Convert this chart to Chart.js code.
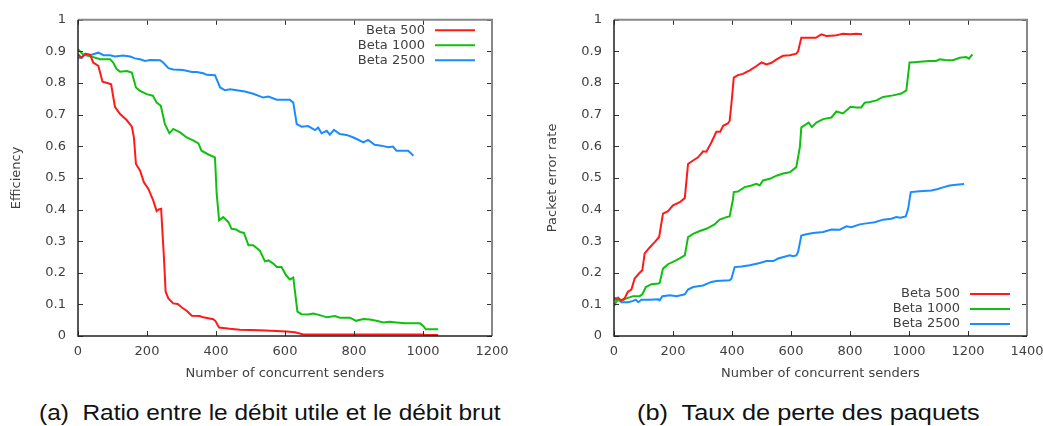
<!DOCTYPE html>
<html>
<head>
<meta charset="utf-8">
<script src="https://cdn.jsdelivr.net/npm/chart.js@4/dist/chart.umd.min.js"></script>
<style>
  html, body { margin: 0; padding: 0; background: #fff; overflow: hidden; }
  body { width: 1043px; height: 426px; position: relative; }
  canvas { position: absolute; top: 0; }
  #effChart { left: 0; }
  #perChart { left: 530px; }
  .caption {
    position: absolute; top: 402px; white-space: pre;
    font-family: "Liberation Sans", Arial, sans-serif; font-size: 22px; line-height: 22px;
    color: #111; transform-origin: left top;
  }
</style>
</head>
<body>
<canvas id="effChart" width="521" height="390"></canvas>
<canvas id="perChart" width="530" height="390"></canvas>
<div class="caption" style="left:39px; transform: scaleX(1.11)">(a)  Ratio entre le débit utile et le débit brut</div>
<div class="caption" style="left:637px; transform: scaleX(1.15)">(b)  Taux de perte des paquets</div>
<script>
// Series labels and colours
const seriesLabels = ['Beta 500', 'Beta 1000', 'Beta 2500'];
const seriesColors = ['#ff1a1a', '#10c010', '#1a8cff'];

// Tick labels
const yTickLabels = ['0', '0.1', '0.2', '0.3', '0.4', '0.5', '0.6', '0.7', '0.8', '0.9', '1'];
const effXTicks = ['0', '200', '400', '600', '800', '1000', '1200'];
const perXTicks = ['0', '200', '400', '600', '800', '1000', '1200', '1400'];

// (a) efficiency, [senders, value]
const effBeta500 = [[0,0.891],[10,0.88],[20,0.892],[35,0.89],[44,0.865],[59,0.854],[71,0.804],[85,0.80],[96,0.796],[107,0.725],[122,0.702],[141,0.683],[156,0.662],[162,0.628],[168,0.544],[180,0.523],[191,0.486],[204,0.465],[218,0.429],[228,0.395],[234,0.40],[241,0.402],[245,0.324],[249,0.25],[254,0.14],[262,0.119],[276,0.103],[289,0.101],[301,0.09],[315,0.08],[330,0.064],[353,0.063],[363,0.059],[392,0.053],[398,0.048],[409,0.027],[440,0.023],[469,0.02],[527,0.018],[605,0.014],[629,0.012],[653,0.005],[1001,0.005],[1005,0.003],[1044,0.003]];
const effBeta1000 = [[0,0.907],[15,0.89],[35,0.885],[64,0.875],[93,0.875],[102,0.865],[112,0.844],[122,0.836],[141,0.838],[156,0.833],[168,0.786],[180,0.775],[199,0.765],[217,0.76],[228,0.738],[240,0.728],[252,0.67],[265,0.641],[276,0.655],[296,0.644],[315,0.628],[335,0.618],[349,0.609],[358,0.586],[378,0.574],[397,0.565],[402,0.45],[409,0.366],[421,0.376],[436,0.36],[445,0.339],[458,0.337],[470,0.329],[481,0.326],[494,0.287],[508,0.287],[527,0.27],[542,0.236],[552,0.239],[566,0.229],[576,0.218],[590,0.218],[603,0.192],[614,0.179],[624,0.185],[636,0.077],[648,0.069],[667,0.068],[682,0.071],[701,0.066],[721,0.059],[745,0.063],[759,0.058],[788,0.058],[806,0.048],[827,0.054],[846,0.052],[865,0.048],[885,0.043],[904,0.045],[923,0.043],[948,0.04],[991,0.04],[1001,0.032],[1008,0.021],[1044,0.021]];
const effBeta2500 = [[0,0.88],[11,0.88],[23,0.893],[35,0.888],[59,0.896],[74,0.888],[93,0.888],[107,0.884],[131,0.887],[151,0.884],[165,0.878],[180,0.875],[194,0.87],[209,0.873],[238,0.872],[247,0.865],[262,0.847],[276,0.843],[305,0.841],[330,0.835],[344,0.835],[363,0.831],[373,0.826],[397,0.825],[412,0.786],[426,0.777],[441,0.78],[460,0.777],[484,0.773],[508,0.766],[537,0.754],[552,0.757],[576,0.747],[614,0.747],[624,0.738],[634,0.67],[648,0.662],[667,0.664],[687,0.651],[696,0.659],[706,0.641],[721,0.649],[730,0.637],[742,0.652],[759,0.639],[778,0.636],[793,0.63],[808,0.623],[827,0.612],[841,0.62],[860,0.605],[879,0.602],[899,0.597],[913,0.599],[923,0.586],[957,0.586],[964,0.579],[972,0.57]];

// (b) packet error rate, [senders, value]
const perBeta500 = [[0,0.119],[14,0.119],[25,0.113],[36,0.119],[47,0.14],[59,0.147],[70,0.182],[87,0.2],[96,0.208],[104,0.261],[121,0.28],[138,0.297],[153,0.313],[166,0.387],[183,0.395],[200,0.413],[223,0.423],[240,0.436],[251,0.544],[268,0.555],[285,0.565],[302,0.584],[313,0.583],[330,0.612],[347,0.646],[360,0.646],[370,0.665],[386,0.672],[392,0.68],[399,0.744],[406,0.817],[420,0.825],[437,0.829],[460,0.84],[483,0.854],[500,0.865],[517,0.859],[534,0.864],[551,0.875],[573,0.886],[596,0.888],[618,0.893],[624,0.9],[635,0.943],[684,0.943],[703,0.954],[720,0.949],[748,0.95],[776,0.956],[799,0.954],[822,0.956],[841,0.954]];
const perBeta1000 = [[0,0.095],[10,0.113],[25,0.111],[42,0.119],[65,0.126],[87,0.126],[96,0.132],[108,0.155],[127,0.164],[150,0.166],[155,0.168],[166,0.213],[183,0.227],[212,0.24],[240,0.255],[251,0.313],[268,0.323],[291,0.332],[313,0.339],[341,0.353],[358,0.368],[381,0.376],[392,0.378],[403,0.43],[406,0.455],[420,0.457],[443,0.471],[466,0.476],[483,0.481],[494,0.476],[505,0.492],[528,0.497],[551,0.507],[573,0.514],[596,0.518],[618,0.534],[630,0.597],[635,0.66],[652,0.67],[660,0.675],[671,0.661],[686,0.675],[709,0.686],[737,0.691],[754,0.71],[776,0.704],[802,0.725],[821,0.723],[838,0.723],[850,0.738],[867,0.74],[890,0.745],[912,0.756],[946,0.761],[974,0.767],[991,0.777],[1002,0.865],[1019,0.866],[1047,0.868],[1070,0.87],[1092,0.87],[1104,0.875],[1121,0.873],[1149,0.872],[1172,0.88],[1194,0.882],[1203,0.877],[1215,0.891]];
const perBeta2500 = [[0,0.119],[8,0.113],[14,0.121],[25,0.107],[48,0.107],[65,0.111],[74,0.115],[82,0.107],[93,0.115],[121,0.115],[150,0.116],[155,0.113],[164,0.126],[189,0.129],[212,0.126],[240,0.132],[251,0.147],[268,0.155],[302,0.16],[330,0.171],[347,0.174],[392,0.176],[398,0.181],[409,0.218],[432,0.22],[460,0.224],[494,0.231],[517,0.237],[540,0.237],[556,0.245],[584,0.252],[596,0.255],[607,0.252],[618,0.255],[624,0.266],[635,0.318],[652,0.322],[675,0.326],[709,0.329],[737,0.337],[765,0.336],[788,0.347],[805,0.344],[833,0.353],[861,0.357],[884,0.36],[912,0.368],[940,0.371],[957,0.376],[971,0.374],[989,0.378],[997,0.402],[1006,0.455],[1036,0.458],[1076,0.46],[1098,0.465],[1115,0.47],[1138,0.476],[1160,0.478],[1187,0.481]];

Chart.defaults.font.family = '"DejaVu Sans", sans-serif';
Chart.defaults.font.size = 13;
Chart.defaults.color = '#404040';

function toPoints(pairs) {
    return pairs.map(p => ({ x: p[0], y: p[1] }));
}

function makeDatasets(seriesList) {
    return seriesList.map((pairs, i) => ({
        label: seriesLabels[i],
        data: toPoints(pairs),
        borderColor: seriesColors[i],
        backgroundColor: seriesColors[i],
        borderWidth: 2,
        pointRadius: 0,
        tension: 0,
        fill: false
    }));
}

// gnuplot style box with inward ticks on all four sides
const framePlugin = {
    id: 'gnuFrame',
    afterDatasetsDraw(chart) {
        const { ctx, chartArea: a, scales: { x, y } } = chart;
        const len = 5;
        ctx.save();
        ctx.strokeStyle = '#333';
        ctx.lineWidth = 1;
        ctx.beginPath();
        x.ticks.forEach(t => {
            const px = Math.round(x.getPixelForValue(t.value)) + 0.5;
            ctx.moveTo(px, a.bottom); ctx.lineTo(px, a.bottom - len);
            ctx.moveTo(px, a.top); ctx.lineTo(px, a.top + len);
        });
        y.ticks.forEach(t => {
            const py = Math.round(y.getPixelForValue(t.value)) + 0.5;
            ctx.moveTo(a.left, py); ctx.lineTo(a.left + len, py);
            ctx.moveTo(a.right, py); ctx.lineTo(a.right - len, py);
        });
        ctx.stroke();
        // top and right edges look lighter in the original
        ctx.strokeStyle = '#888';
        ctx.lineWidth = 2;
        ctx.beginPath();
        ctx.moveTo(a.left, a.top); ctx.lineTo(a.right, a.top); ctx.lineTo(a.right, a.bottom);
        ctx.stroke();
        ctx.strokeStyle = '#222';
        ctx.lineWidth = 1.5;
        ctx.beginPath();
        ctx.moveTo(a.left, a.top); ctx.lineTo(a.left, a.bottom); ctx.lineTo(a.right, a.bottom);
        ctx.stroke();
        ctx.restore();
    }
};

// legend: right aligned text followed by a short line sample
const keyPlugin = {
    id: 'gnuKey',
    afterDraw(chart, args, opts) {
        const { ctx, chartArea: a } = chart;
        const rowH = 15;
        const n = chart.data.datasets.length;
        let y0 = opts.where === 'bottom' ? a.bottom - 12 - rowH * (n - 1) : a.top + 10.5;
        ctx.save();
        ctx.font = '13px "DejaVu Sans", sans-serif';
        ctx.textAlign = 'right';
        ctx.textBaseline = 'middle';
        chart.data.datasets.forEach((ds, i) => {
            const yy = y0 + i * rowH;
            ctx.fillStyle = '#404040';
            ctx.fillText(ds.label, a.right - 67, yy);
            ctx.strokeStyle = ds.borderColor;
            ctx.lineWidth = 2;
            ctx.beginPath();
            ctx.moveTo(a.right - 57, yy);
            ctx.lineTo(a.right - 17, yy);
            ctx.stroke();
        });
        ctx.restore();
    }
};

function createPanel(canvasId, seriesList, xMax, xLabels, yTitle, opt) {
    return new Chart(document.getElementById(canvasId), {
        type: 'line',
        data: { datasets: makeDatasets(seriesList) },
        options: {
            responsive: false,
            animation: false,
            devicePixelRatio: 1,
            layout: { padding: { top: 18.5, left: 0, right: opt.padRight, bottom: 0 } },
            plugins: {
                legend: { display: false },
                tooltip: { enabled: false },
                gnuKey: { where: opt.keyWhere }
            },
            scales: {
                x: {
                    type: 'linear',
                    min: 0,
                    max: xMax,
                    border: { display: false },
                    grid: { display: false, drawTicks: false },
                    ticks: {
                        stepSize: 200,
                        padding: 8,
                        maxRotation: 0,
                        callback: (v, i) => xLabels[i]
                    },
                    title: {
                        display: true,
                        text: 'Number of concurrent senders',
                        padding: { top: 0, bottom: 9 }
                    },
                    afterFit: s => { s.height = 54; }
                },
                y: {
                    min: 0,
                    max: 1,
                    border: { display: false },
                    grid: { display: false, drawTicks: false },
                    ticks: {
                        stepSize: 0.1,
                        padding: 12,
                        callback: (v, i) => yTickLabels[i]
                    },
                    title: {
                        display: true,
                        text: yTitle,
                        padding: { top: opt.titlePad, bottom: 0 }
                    },
                    afterFit: s => { s.width = opt.yWidth; }
                }
            }
        },
        plugins: [framePlugin, keyPlugin]
    });
}

createPanel('effChart', [effBeta500, effBeta1000, effBeta2500], 1200, effXTicks, 'Efficiency',
    { padRight: 29, yWidth: 78, titlePad: 9, keyWhere: 'top' });
createPanel('perChart', [perBeta500, perBeta1000, perBeta2500], 1400, perXTicks, 'Packet error rate',
    { padRight: 33, yWidth: 84, titlePad: 15, keyWhere: 'bottom' });
</script>
</body>
</html>
